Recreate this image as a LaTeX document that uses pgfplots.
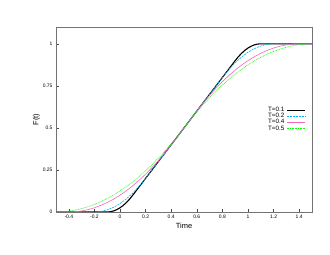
\documentclass[border=0pt]{standalone}
\usepackage{fontspec}
\setmainfont{Liberation Sans}
\usepackage{pgfplots}
\pgfplotsset{compat=1.18}

\begin{document}
\begin{tikzpicture}
\begin{axis}[
    at={(0,0)}, anchor=south west,
    scale only axis,
    width=256bp, height=185bp,
    xmin=-0.5, xmax=1.5,
    ymin=0, ymax=1.1,
    xtick={-0.4,-0.2,0,0.2,0.4,0.6,0.8,1,1.2,1.4},
    ytick={0,0.25,0.5,0.75,1},
    yticklabels={0,0.25,0.5,0.75,1},
    tick align=inside,
    xtick pos=bottom, ytick pos=left,
    major tick length=3bp,
    axis line style={black!55},
    tick style={black!70, line width=0.4pt},
    /pgf/number format/assume math mode=true,
    tick label style={font=\fontsize{5}{6}\selectfont},
    xlabel={Time}, ylabel={F(t)},
    label style={font=\fontsize{7.5}{8}\selectfont},
    xlabel style={yshift=3bp},
    ylabel style={yshift=-4bp},
    legend style={draw=none, fill=none, at={(0.975,0.50)}, anchor=east,
        font=\fontsize{6.3}{4}\selectfont, row sep=-3.8bp,
        legend cell align=right, inner sep=0pt},
    legend plot pos=right,
    legend image code/.code={\draw[#1] (0bp,0bp) -- (18bp,0bp);},
]
\addplot[black, line width=1.1pt] coordinates {
(-0.5,0)(-0.1,0)(-0.075,0.0015625)(-0.05,0.00625)(-0.025,0.0140625)(0,0.025)
(0.025,0.0390625)(0.05,0.05625)(0.075,0.0765625)(0.1,0.1)
(0.9,0.9)(0.925,0.9234375)(0.95,0.94375)(0.975,0.9609375)(1.0,0.975)
(1.025,0.9859375)(1.05,0.99375)(1.075,0.9984375)(1.1,1)(1.5,1)
};
\addlegendentry{T=0.1}
\addplot[cyan, line width=0.6pt, dash pattern=on 2pt off 1pt] coordinates {
(-0.5,0)(-0.2,0)(-0.15,0.003125)(-0.1,0.0125)(-0.05,0.028125)(0,0.05)
(0.05,0.078125)(0.1,0.1125)(0.15,0.153125)(0.2,0.2)
(0.8,0.8)(0.85,0.846875)(0.9,0.8875)(0.95,0.921875)(1.0,0.95)
(1.05,0.971875)(1.1,0.9875)(1.15,0.996875)(1.2,1)(1.5,1)
};
\addlegendentry{T=0.2}
\addplot[magenta!60, line width=0.6pt] coordinates {
(-0.5,0)(-0.4,0)(-0.35,0.0015625)(-0.3,0.00625)(-0.25,0.0140625)(-0.2,0.025)
(-0.15,0.0390625)(-0.1,0.05625)(-0.05,0.0765625)(0,0.1)(0.05,0.1265625)
(0.1,0.15625)(0.15,0.1890625)(0.2,0.225)(0.25,0.2640625)(0.3,0.30625)
(0.35,0.3515625)(0.4,0.4)
(0.6,0.6)(0.65,0.6484375)(0.7,0.69375)(0.75,0.7359375)(0.8,0.775)
(0.85,0.8109375)(0.9,0.84375)(0.95,0.8734375)(1.0,0.9)(1.05,0.9234375)
(1.1,0.94375)(1.15,0.9609375)(1.2,0.975)(1.25,0.9859375)(1.3,0.99375)
(1.35,0.9984375)(1.4,1)(1.5,1)
};
\addlegendentry{T=0.4}
\addplot[green, line width=0.6pt, dash pattern=on 0.8pt off 0.8pt] coordinates {
(-0.5,0)(-0.45,0.00125)(-0.4,0.005)(-0.35,0.01125)(-0.3,0.02)(-0.25,0.03125)
(-0.2,0.045)(-0.15,0.06125)(-0.1,0.08)(-0.05,0.10125)(0,0.125)(0.05,0.15125)
(0.1,0.18)(0.15,0.21125)(0.2,0.245)(0.25,0.28125)(0.3,0.32)(0.35,0.36125)
(0.4,0.405)(0.45,0.45125)(0.5,0.5)
(0.55,0.54875)(0.6,0.595)(0.65,0.63875)(0.7,0.68)(0.75,0.71875)(0.8,0.755)
(0.85,0.78875)(0.9,0.82)(0.95,0.84875)(1.0,0.875)(1.05,0.89875)(1.1,0.92)
(1.15,0.93875)(1.2,0.955)(1.25,0.96875)(1.3,0.98)(1.35,0.98875)(1.4,0.995)
(1.45,0.99875)(1.5,1)
};
\addlegendentry{T=0.5}
\end{axis}
\path[use as bounding box] (-56bp,-43bp) rectangle (274bp,212bp);
\end{tikzpicture}
\end{document}
